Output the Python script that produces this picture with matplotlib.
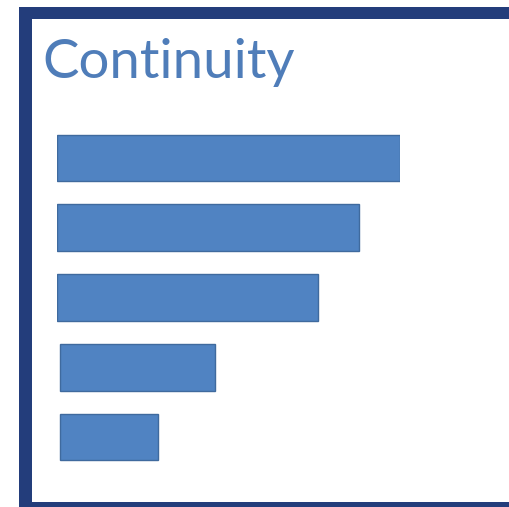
import matplotlib.pyplot as plt
from matplotlib.patches import Rectangle

# bar values (relative, top bar = 100)
categories = ['A', 'B', 'C', 'D', 'E']
starts = [0, 0, 0, 1, 1]
values = [100, 88, 76, 45, 28.5]
title = 'Continuity'

W, H = 510, 507
fig = plt.figure(figsize=(W / 100, H / 100), dpi=100)
fig.patch.set_facecolor('white')

# dark frame around the panel (right side runs off the picture)
navy = '#233d7b'
for x0, y0, x1, y1 in [(19, 7, 32, 507), (19, 7, 510, 19), (19, 502, 510, 507)]:
    fig.patches.append(Rectangle((x0 / W, 1 - y1 / H), (x1 - x0) / W, (y1 - y0) / H,
                                 transform=fig.transFigure, facecolor=navy,
                                 edgecolor='none'))

fig.text(42 / W, 1 - 78 / H, title, fontsize=39.3, family='Lato',
         color='#4f7db9', va='baseline', ha='left')

# bars area
ax = fig.add_axes([57 / W, 1 - 472 / H, 343 / W, 349 / H])
ax.barh(range(len(categories)), values, left=starts, height=0.67,
        color='#5083c2', edgecolor='#3f6a9e', linewidth=1)
ax.set_xlim(0, 100)
ax.set_ylim(len(categories) - 0.5, -0.5)
ax.axis('off')

fig.savefig('out.png', dpi=100, facecolor='white')
